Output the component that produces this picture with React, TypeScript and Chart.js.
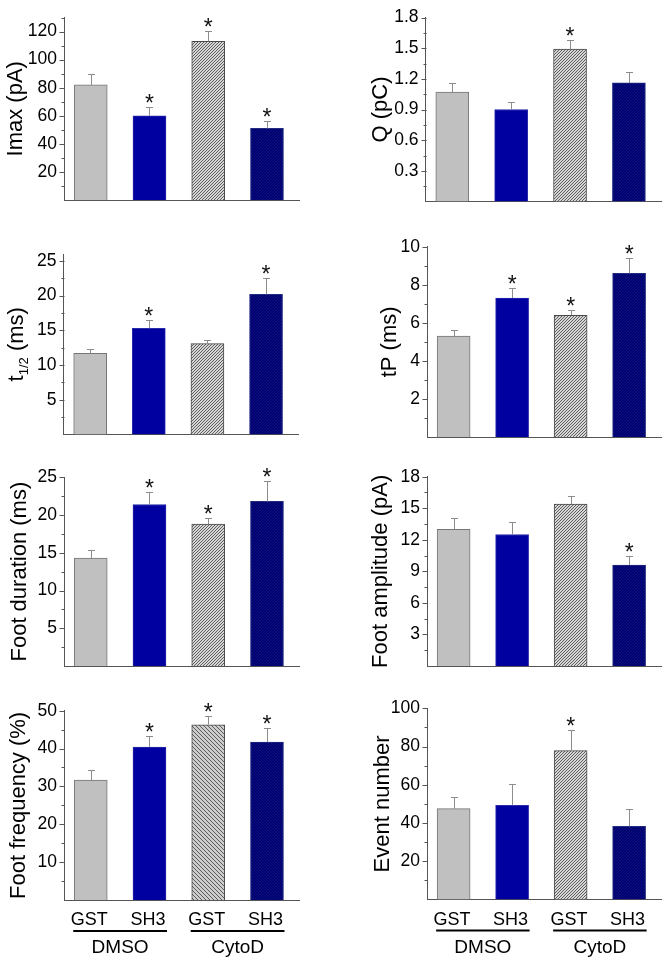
import React, { useEffect, useRef } from 'react';
import { Chart, registerables } from 'chart.js';
Chart.register(...registerables);

// ---------- data ----------
const categories = ['GST', 'SH3', 'GST', 'SH3'];
const groupLabels = ['DMSO', 'CytoD'];

const imaxMean = [82, 60, 113, 51];
const imaxSem = [8, 6, 7.5, 5];
const imaxStar = [false, true, true, true];
const imaxTicks = [20, 40, 60, 80, 100, 120];

const qMean = [1.07, 0.9, 1.49, 1.16];
const qSem = [0.09, 0.07, 0.09, 0.11];
const qStar = [false, false, true, false];
const qTicks = [0.3, 0.6, 0.9, 1.2, 1.5, 1.8];

const tHalfMean = [11.7, 15.3, 13.1, 20.2];
const tHalfSem = [0.6, 1.2, 0.5, 2.4];
const tHalfStar = [false, true, false, true];
const tHalfTicks = [5, 10, 15, 20, 25];

const tpMean = [5.3, 7.3, 6.4, 8.6];
const tpSem = [0.3, 0.55, 0.25, 0.8];
const tpStar = [false, true, true, true];
const tpTicks = [2, 4, 6, 8, 10];

const footDurMean = [14.3, 21.4, 18.8, 21.8];
const footDurSem = [1.05, 1.65, 0.75, 2.7];
const footDurStar = [false, true, true, true];
const footDurTicks = [5, 10, 15, 20, 25];

const footAmpMean = [13.0, 12.5, 15.4, 9.6];
const footAmpSem = [1.1, 1.2, 0.8, 0.9];
const footAmpStar = [false, false, false, true];
const footAmpTicks = [3, 6, 9, 12, 15, 18];

const footFreqMean = [31.7, 40.4, 46.3, 41.7];
const footFreqSem = [2.6, 2.9, 2.2, 3.8];
const footFreqStar = [false, true, true, true];
const footFreqTicks = [10, 20, 30, 40, 50];

const eventMean = [47.5, 49.3, 77.9, 38.3];
const eventSem = [6.0, 11.0, 10.6, 9.1];
const eventStar = [false, false, true, false];
const eventTicks = [20, 40, 60, 80, 100];

// ---------- layout / style ----------
const FONT = '"Liberation Sans", Arial, Helvetica, sans-serif';
const W = 667;
const H = 964;
const COLS = [
  { left: 0, width: 333 },
  { left: 333, width: 334 },
];
const TITLE_SIZE = 22;

type TitlePart = { t: string; s: number; dy: number };

interface Spec {
  title: TitlePart[];
  mean: number[];
  sem: number[];
  star: boolean[];
  ticks: number[];
  ymax: number;
  minor: number;
  dec: number;
  col: number;
  axisX: number;
  rightX: number;
  topY: number;
  baseY: number;
  labelX: number;
  bottom?: boolean;
  hatchDir: number;
}

const T = (t: string): TitlePart[] => [{ t, s: TITLE_SIZE, dy: 0 }];

const panels: Spec[] = [
  { title: T('Imax (pA)'), mean: imaxMean, sem: imaxSem, star: imaxStar, ticks: imaxTicks, ymax: 130, minor: 10, dec: 0, col: 0, axisX: 64, rightX: 299, topY: 11, baseY: 200, labelX: 14, hatchDir: 1 },
  { title: T('Q (pC)'), mean: qMean, sem: qSem, star: qStar, ticks: qTicks, ymax: 1.8, minor: 0.15, dec: 1, col: 1, axisX: 425.5, rightX: 661, topY: 12.7, baseY: 201.5, labelX: 379, hatchDir: 1 },
  { title: [{ t: 't', s: TITLE_SIZE, dy: 0 }, { t: '1/2', s: 13, dy: 5 }, { t: ' (ms)', s: TITLE_SIZE, dy: 0 }], mean: tHalfMean, sem: tHalfSem, star: tHalfStar, ticks: tHalfTicks, ymax: 26, minor: 2.5, dec: 0, col: 0, axisX: 63.5, rightX: 298, topY: 254, baseY: 434.5, labelX: 15, hatchDir: 1 },
  { title: T('tP (ms)'), mean: tpMean, sem: tpSem, star: tpStar, ticks: tpTicks, ymax: 10, minor: 1, dec: 0, col: 1, axisX: 427, rightX: 661, topY: 246.7, baseY: 437, labelX: 388, hatchDir: 1 },
  { title: T('Foot duration (ms)'), mean: footDurMean, sem: footDurSem, star: footDurStar, ticks: footDurTicks, ymax: 25, minor: 2.5, dec: 0, col: 0, axisX: 64, rightX: 299, topY: 477.3, baseY: 666, labelX: 18, hatchDir: 1 },
  { title: T('Foot amplitude (pA)'), mean: footAmpMean, sem: footAmpSem, star: footAmpStar, ticks: footAmpTicks, ymax: 18, minor: 1.5, dec: 0, col: 1, axisX: 427, rightX: 661, topY: 476.7, baseY: 666, labelX: 379, hatchDir: 1 },
  { title: T('Foot frequency (%)'), mean: footFreqMean, sem: footFreqSem, star: footFreqStar, ticks: footFreqTicks, ymax: 50, minor: 5, dec: 0, col: 0, axisX: 64, rightX: 299, topY: 710.7, baseY: 900, labelX: 17, bottom: true, hatchDir: -1 },
  { title: T('Event number'), mean: eventMean, sem: eventSem, star: eventStar, ticks: eventTicks, ymax: 100, minor: 10, dec: 0, col: 1, axisX: 427, rightX: 661, topY: 708.3, baseY: 899.5, labelX: 381, bottom: true, hatchDir: 1 },
];

function makeHatch(ctx: CanvasRenderingContext2D, bg: string, fg: string, size: number, dir: number) {
  const c = document.createElement('canvas');
  c.width = size;
  c.height = size;
  const g = c.getContext('2d')!;
  g.fillStyle = bg;
  g.fillRect(0, 0, size, size);
  g.strokeStyle = fg;
  g.lineWidth = 1;
  g.beginPath();
  for (let k = -1; k <= 1; k++) {
    if (dir === 1) {
      g.moveTo(k * size, size);
      g.lineTo(k * size + size, 0);
    } else {
      g.moveTo(k * size, 0);
      g.lineTo(k * size + size, size);
    }
  }
  g.stroke();
  return ctx.createPattern(c, 'repeat')!;
}

function Panel({ spec }: { spec: Spec }) {
  const ref = useRef<HTMLCanvasElement>(null);
  const col = COLS[spec.col];
  const cTop = Math.max(0, Math.floor(spec.topY - 40));
  const cBottom = Math.min(H, Math.ceil(spec.baseY + 64));
  const cH = cBottom - cTop;

  useEffect(() => {
    const canvas = ref.current!;
    const ctx0 = canvas.getContext('2d')!;
    const grayHatch =
      spec.hatchDir === 1
        ? makeHatch(ctx0, '#d6d6d6', '#5e5e5e', 3, 1)
        : makeHatch(ctx0, '#cdcdcd', '#5a5a5a', 4, -1);
    const navyHatch = makeHatch(ctx0, '#000074', '#0c1478', 3, spec.hatchDir);

    const yAxisW = spec.axisX - col.left;
    const padRight = col.width - (spec.rightX - col.left);
    const padTop = spec.topY - cTop;
    const padBottom = cBottom - spec.baseY;

    const fmt = (v: number) => v.toFixed(spec.dec);

    const overlay = {
      id: 'overlay',
      afterDatasetsDraw(chart: any) {
        const ctx: CanvasRenderingContext2D = chart.ctx;
        const meta = chart.getDatasetMeta(0);
        const ys = chart.scales.y;
        ctx.save();
        meta.data.forEach((el: any, i: number) => {
          const x = Math.round(el.x) + 0.5;
          const e = Math.round(ys.getPixelForValue(spec.mean[i] + spec.sem[i])) + 0.5;
          ctx.strokeStyle = '#8c8c8c';
          ctx.lineWidth = 1;
          ctx.beginPath();
          ctx.moveTo(x, el.y);
          ctx.lineTo(x, e);
          ctx.moveTo(x - 3.5, e);
          ctx.lineTo(x + 3.5, e);
          ctx.stroke();
          if (spec.star[i]) {
            ctx.fillStyle = '#111';
            ctx.font = `23px ${FONT}`;
            ctx.textAlign = 'center';
            ctx.textBaseline = 'alphabetic';
            ctx.fillText('*', el.x, e - 10 + 13);
          }
        });
        ctx.restore();
      },
      afterDraw(chart: any) {
        const ctx: CanvasRenderingContext2D = chart.ctx;
        const area = chart.chartArea;
        const ys = chart.scales.y;
        ctx.save();
        // tick marks
        ctx.strokeStyle = '#555';
        ctx.lineWidth = 1;
        const n = Math.floor(spec.ymax / spec.minor + 1e-6);
        const ax = Math.round(area.left) + 0.5;
        ctx.beginPath();
        for (let i = 1; i <= n; i++) {
          const v = i * spec.minor;
          const isMajor = spec.ticks.some((t) => Math.abs(t - v) < 1e-6);
          const y = Math.round(ys.getPixelForValue(v)) + 0.5;
          ctx.moveTo(ax - (isMajor ? 5 : 3), y);
          ctx.lineTo(ax, y);
        }
        ctx.stroke();

        // y title
        const cx = spec.labelX - col.left;
        const cy = (area.top + area.bottom) / 2;
        ctx.translate(cx, cy);
        ctx.rotate(-Math.PI / 2);
        ctx.fillStyle = '#000';
        ctx.textBaseline = 'alphabetic';
        ctx.textAlign = 'left';
        let total = 0;
        const widths = spec.title.map((p) => {
          ctx.font = `${p.s}px ${FONT}`;
          const w = ctx.measureText(p.t).width;
          total += w;
          return w;
        });
        let px = -total / 2;
        spec.title.forEach((p, i) => {
          ctx.font = `${p.s}px ${FONT}`;
          ctx.fillText(p.t, px, 7.5 + p.dy);
          px += widths[i];
        });
        ctx.setTransform(1, 0, 0, 1, 0, 0);

        // bottom category labels
        if (spec.bottom) {
          const meta = chart.getDatasetMeta(0);
          const base = area.bottom;
          ctx.fillStyle = '#000';
          ctx.textAlign = 'center';
          ctx.textBaseline = 'alphabetic';
          ctx.font = `18px ${FONT}`;
          meta.data.forEach((el: any, i: number) => {
            ctx.fillText(categories[i], el.x - 1.5, base + 25);
          });
          ctx.strokeStyle = '#000';
          ctx.lineWidth = 2;
          for (let g = 0; g < 2; g++) {
            const a = meta.data[g * 2];
            const b = meta.data[g * 2 + 1];
            const x1 = a.x - a.width / 2 - 1;
            const x2 = b.x + b.width / 2 + 1;
            ctx.beginPath();
            ctx.moveTo(x1, base + 31);
            ctx.lineTo(x2, base + 31);
            ctx.stroke();
            ctx.font = `19px ${FONT}`;
            ctx.fillText(groupLabels[g], (x1 + x2) / 2, base + 53);
          }
        }
        ctx.restore();
      },
    };

    const chart = new Chart(canvas, {
      type: 'bar',
      data: {
        datasets: [
          {
            data: spec.mean.map((v, i) => ({ x: i + 1, y: v })),
            backgroundColor: ['#c0c0c0', '#0000a0', grayHatch, navyHatch],
            borderColor: ['#767676', '#2828a8', '#484848', '#222c80'],
            borderWidth: 1,
            barThickness: 33,
          } as any,
        ],
      },
      options: {
        animation: false,
        responsive: false,
        maintainAspectRatio: false,
        layout: { padding: { left: 0, right: padRight, top: padTop, bottom: padBottom } },
        plugins: { legend: { display: false }, tooltip: { enabled: false } },
        scales: {
          x: {
            type: 'linear',
            min: 0.545,
            max: 4.545,
            offset: false,
            grid: { display: false, drawTicks: false },
            ticks: { display: false },
            border: { display: true, color: '#555', width: 1 },
            afterFit: (axis: any) => {
              axis.height = 0;
            },
          },
          y: {
            type: 'linear',
            min: 0,
            max: spec.ymax,
            grid: { display: false, drawTicks: false },
            border: { display: true, color: '#555', width: 1 },
            afterBuildTicks: (axis: any) => {
              axis.ticks = spec.ticks.map((v) => ({ value: v }));
            },
            ticks: {
              autoSkip: false,
              padding: 7,
              color: '#000',
              font: { family: FONT, size: 17.5 },
              callback: (v: any) => fmt(Number(v)),
            },
            afterFit: (axis: any) => {
              axis.width = yAxisW;
            },
          },
        },
      } as any,
      plugins: [overlay],
    });
    return () => chart.destroy();
  }, []);

  return (
    <canvas
      ref={ref}
      width={col.width}
      height={cH}
      style={{ position: 'absolute', left: col.left, top: cTop, width: col.width, height: cH }}
    />
  );
}

export default function App() {
  return (
    <div style={{ position: 'absolute', left: 0, top: 0, width: W, height: H, background: '#fff' }}>
      {panels.map((p, i) => (
        <Panel key={i} spec={p} />
      ))}
    </div>
  );
}
